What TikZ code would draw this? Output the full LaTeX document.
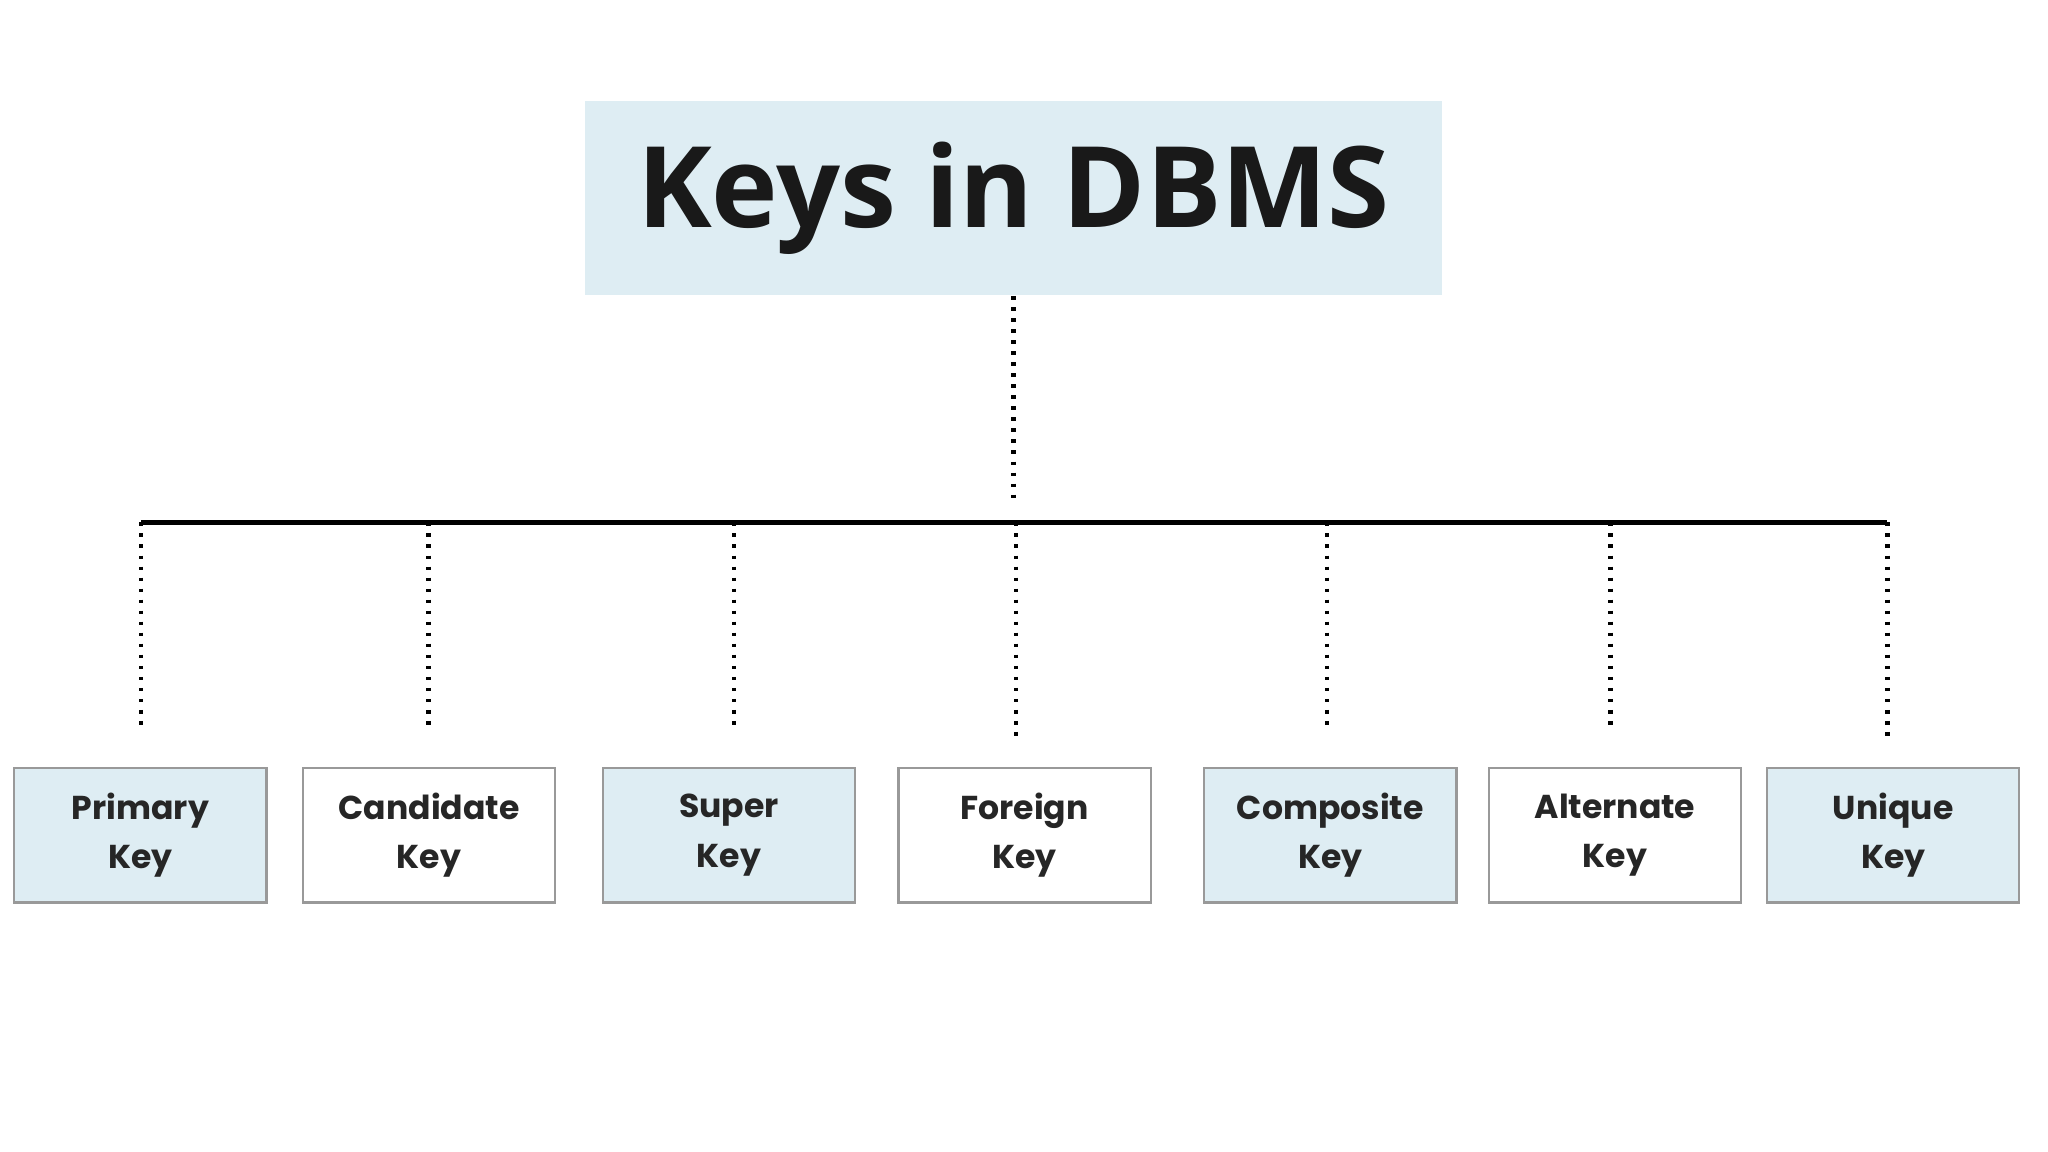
\documentclass[tikz,border=0pt]{standalone}
\usepackage{fontspec}
\setmainfont{Poppins}
\newfontfamily\titlefont{Open Sans}
\begin{document}
\begin{tikzpicture}[x=0.01cm,y=-0.01cm,
  key/.style={draw=gray!80,line width=0.5pt,minimum width=1.93cm,minimum height=1.03cm,align=center,font=\fontsize{7.2}{10.8}\selectfont\bfseries,text=black!85},
  kb/.style={key,fill=blue1},
  kw/.style={key,fill=white},
  dots/.style={line width=1pt,dash pattern=on 0.8pt off 1.6pt}]
\definecolor{blue1}{HTML}{DEEDF3}
\useasboundingbox (0,0) rectangle (1568,882);
\node[fill=blue1,minimum width=6.56cm,minimum height=1.49cm,font=\titlefont\fontsize{24.5}{30}\selectfont\bfseries,text=black!90] (title) at (776,151.5) {Keys in DBMS};
\coordinate (hub) at (776,383);
\draw[dots] (title.south) -- (hub);
\coordinate (L) at (108,400); \coordinate (R) at (1445,400);
\draw[line width=1.1pt] (L) -- (R);
\foreach \x/\e/\n/\s/\t/\c in {108/560/a/kb/{Primary\\Key}/107.5,328/557/b/kw/{Candidate\\Key}/328.5,562/560/c/kb/{Super\\Key}/558,778/567/d/kw/{Foreign\\Key}/784.5,1016/560/e/kb/{Composite\\Key}/1018.5,1233/560/f/kw/{Alternate\\Key}/1236.5,1445/567/g/kb/{Unique\\Key}/1449.5}{
  \coordinate (t\n) at (\x,400); \coordinate (b\n) at (\x,\e);
  \draw[dots] (t\n) -- (b\n);
  \node[\s] (k\n) at (\c,639.5) {\t};
}
\end{tikzpicture}
\end{document}
